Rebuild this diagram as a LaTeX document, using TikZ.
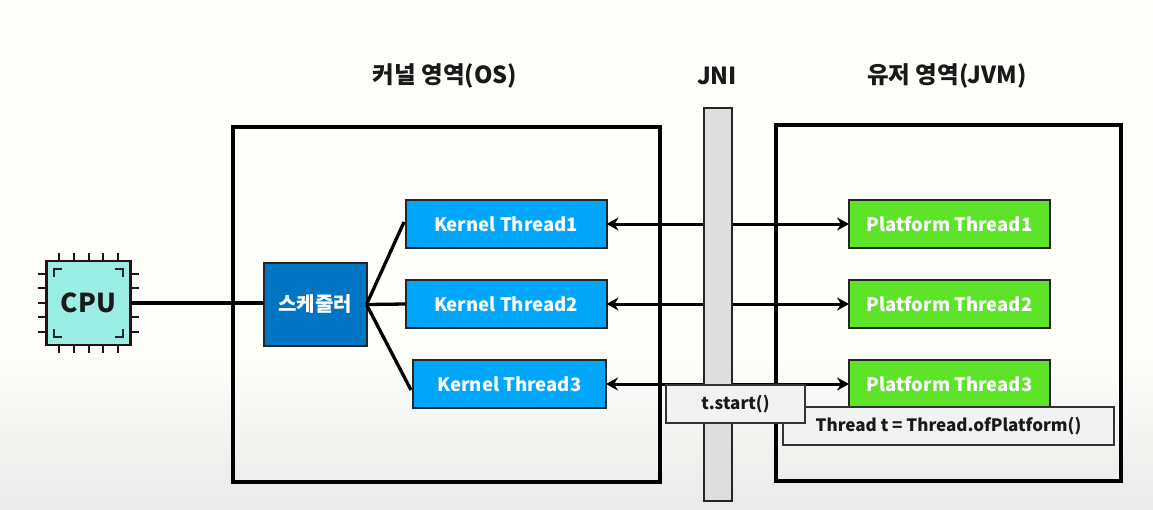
\documentclass[tikz,border=0pt]{standalone}
\usepackage{fontspec}
\setmainfont{Noto Sans CJK KR}
\usetikzlibrary{arrows.meta}
\definecolor{bgwhite}{HTML}{FEFEFB}
\definecolor{bggrey}{HTML}{EAEAEA}
\definecolor{kblue}{HTML}{00A6FA}
\definecolor{sblue}{HTML}{0274C4}
\definecolor{pgreen}{HTML}{5DE429}
\definecolor{cpufill}{HTML}{9AEEE4}
\definecolor{jnifill}{HTML}{DEDEDE}
\definecolor{codefill}{HTML}{F2F2F2}
\definecolor{pincol}{HTML}{2A0F12}
\tikzset{
  every node/.style={inner sep=0pt,outer sep=0pt},
  region/.style={draw=black,line width=3.6pt},
  thr/.style={draw=black!85,line width=2pt,font=\fontsize{18.5}{20}\selectfont\bfseries,text=white,minimum height=48pt},
  kthr/.style={thr,fill=kblue},
  pthr/.style={thr,fill=pgreen},
  sched/.style={draw=black!85,line width=2pt,fill=sblue,text=white,font=\fontsize{20}{22}\selectfont\bfseries,minimum width=103pt,minimum height=83pt},
  title/.style={font=\fontsize{23.5}{26}\selectfont\bfseries,text=black!90},
  code/.style={draw=black!80,line width=1.7pt,fill=codefill,font=\fontsize{17}{19}\selectfont\bfseries,text=black!90},
  conn/.style={line width=3.3pt,black},
  arr/.style={line width=3pt,black,{Stealth[length=12pt,width=13pt]}-{Stealth[length=12pt,width=13pt]}},
  pin/.style={line width=2.2pt,pincol},
  chip/.style={draw=pincol,line width=2.4pt,fill=cpufill,minimum width=84pt,minimum height=84pt,font=\fontsize{26}{28}\selectfont\bfseries,text=black!90},
  bracket/.style={line width=2.2pt,black!85},
}
\begin{document}
\begin{tikzpicture}[x=1pt,y=-1pt]
\useasboundingbox (0,0) rectangle (1153,509);
\fill[bgwhite] (0,0) rectangle (1153,509);
\shade[top color=bgwhite,bottom color=bggrey] (0,350) rectangle (1153,509);
% regions
\node[region,minimum width=427pt,minimum height=355pt] (kernel) at (446.5,304.5) {};
\node[region,minimum width=345pt,minimum height=356pt] (user) at (948.5,303) {};
% titles
\node[title] (tk) at (445,76) {커널 영역(OS)};
\node[title] (tj) at (717,76) {JNI};
\node[title] (tu) at (947,76) {유저 영역(JVM)};
% CPU pins
\foreach \x in {59,74,89,103,118}{
  \draw[pin] (\x,253) -- (\x,353);
}
\foreach \y in {274,288,303,317,332}{
  \draw[pin] (38,\y) -- (139,\y);
}
\node[chip] (cpu) at (88.5,303) {CPU};
\draw[bracket] (54,277) -- (54,269) -- (62,269);
\draw[bracket] (115,269) -- (123,269) -- (123,277);
\draw[bracket] (54,329) -- (54,337) -- (62,337);
\draw[bracket] (115,337) -- (123,337) -- (123,329);
% nodes
\node[sched] (sch) at (315,304.5) {스케줄러};
\node[kthr,minimum width=201pt] (k1) at (506,224) {Kernel Thread1};
\node[kthr,minimum width=201pt] (k2) at (506,304) {Kernel Thread2};
\node[kthr,minimum width=193pt] (k3) at (509.5,384) {Kernel Thread3};
\node[pthr,minimum width=201pt] (p1) at (949.5,224) {Platform Thread1};
\node[pthr,minimum width=201pt] (p2) at (949.5,304) {Platform Thread2};
\node[pthr,minimum width=201pt] (p3) at (949.5,384) {Platform Thread3};
% connectors
\coordinate (kin3) at (411,390);
\coordinate (kin1) at (404,222);
\draw[conn] (cpu.east) -- (sch.west |- cpu.east);
\draw[conn] (sch.east) -- (kin1);
\draw[conn] (sch.east) -- (k2.west);
\draw[conn] (sch.east) -- (kin3);
\draw[arr] (k1.east) -- (p1.west);
\draw[arr] (k2.east) -- (p2.west);
\draw[arr] (k3.east) -- (p3.west);
% JNI bar
\node[draw=black!85,line width=2pt,fill=jnifill,minimum width=28pt,minimum height=393pt] (jni) at (717.5,304) {};
% code boxes
\node[code,minimum width=331pt,minimum height=38pt] (tdef) at (948.5,426) {\raisebox{-1pt}{Thread t = Thread.ofPlatform()}};
\node[code,minimum width=139pt,minimum height=38pt] (tst) at (735.5,404) {\raisebox{-1pt}{t.start()}};
\end{tikzpicture}
\end{document}
